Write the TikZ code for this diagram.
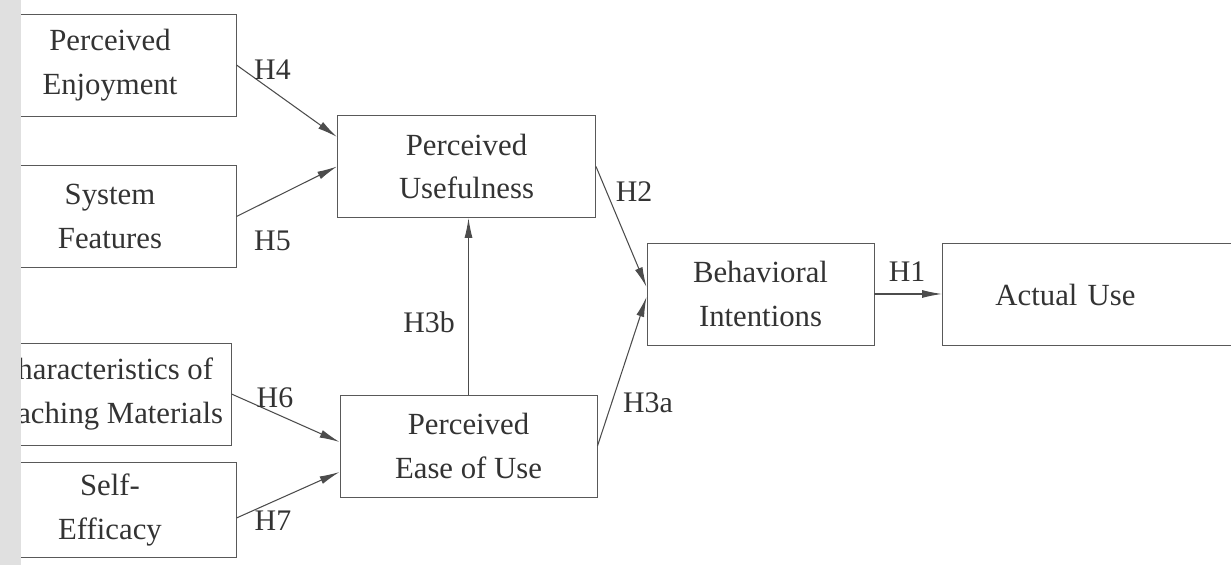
\documentclass[tikz,border=0pt]{standalone}
\usepackage{fontspec}
\setmainfont{Liberation Serif}
\usetikzlibrary{calc,arrows.meta}

\begin{document}
\begin{tikzpicture}[box/.style={draw=black!65,line width=0.55pt,align=center,minimum width=5.04cm,minimum height=2.04cm,font=\fontsize{17.5}{25}\selectfont,text=black!80},
hyp/.style={draw=black!70,line width=0.6pt,-{Latex[length=0.4cm,width=0.16cm]}},
lab/.style={font=\fontsize{17}{18}\selectfont,text=black!80}]
\useasboundingbox (0,0) rectangle (24.62,11.3);
\clip (0,0) rectangle (24.62,11.3);
\node [box] (Enjoyment) at (2.2,10.0) {Perceived\\Enjoyment};
\node [box] (Features) at (2.2,6.97) {System\\Features};
\node [box] (Materials) at (2.1,3.42) {Characteristics of\\Teaching Materials};
\node [box,minimum height=1.9cm] (Efficacy) at (2.2,1.1) {Self-\\Efficacy};
\node [box,minimum width=5.16cm] (Usefulness) at (9.33,7.97) {Perceived\\Usefulness};
\node [box,minimum width=5.14cm] (EaseOfUse) at (9.37,2.38) {Perceived\\Ease of Use};
\node [box,minimum width=4.54cm] (Intentions) at (15.21,5.42) {Behavioral\\Intentions};
\node [box,anchor=west,align=left,text width=4.2cm,inner xsep=1.06cm] (ActualUse) at (18.84,5.41) {Actual Use};
% hypotheses
\draw [hyp] (Enjoyment.east) -- ([yshift=0.59cm]Usefulness.west);
\draw [hyp] (Features.east) -- (Usefulness.west);
\draw [hyp] (Materials.east) -- ([yshift=0.08cm]EaseOfUse.west);
\draw [hyp] ([yshift=-0.16cm]Efficacy.east) -- ([yshift=-0.52cm]EaseOfUse.west);
\draw [hyp] (EaseOfUse.north) -- (EaseOfUse.north |- Usefulness.south);
\draw [hyp] (Usefulness.east) -- ([yshift=0.14cm]Intentions.west);
\draw [hyp] (EaseOfUse.east) -- ([yshift=-0.06cm]Intentions.west);
\draw [hyp] (Intentions.east) -- (Intentions.east -| ActualUse.west);
\node [lab] (H4) at (5.45,9.9) {H4};
\node [lab] (H5) at (5.45,6.48) {H5};
\node [lab] (H6) at (5.5,3.34) {H6};
\node [lab] (H7) at (5.46,0.88) {H7};
\node [lab] (H3b) at (8.58,4.86) {H3b};
\node [lab] (H2) at (12.68,7.46) {H2};
\node [lab] (H3a) at (12.96,3.24) {H3a};
\node [lab] (H1) at (18.14,5.86) {H1};
\fill [black!12] (0,0) rectangle (0.42,11.3);
\end{tikzpicture}
\end{document}
